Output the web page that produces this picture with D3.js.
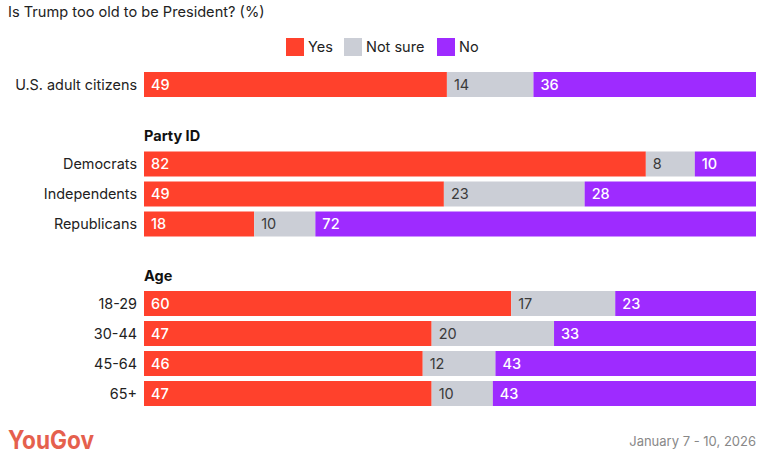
<!DOCTYPE html>
<html>
<head>
<meta charset="utf-8">
<script src="https://cdn.jsdelivr.net/npm/d3@7"></script>
<style>
  body { margin: 0; background: #fff; }
  svg { display: block; font-family: Inter, "Noto Sans", sans-serif; }
</style>
</head>
<body>
<svg width="764" height="464"></svg>
<script>
var categories = ["U.S. adult citizens", "Democrats", "Independents", "Republicans", "18-29", "30-44", "45-64", "65+"];
var groupOf = [0, 1, 1, 1, 2, 2, 2, 2];
var groupTitles = ["", "Party ID", "Age"];
var seriesNames = ["Yes", "Not sure", "No"];
var yes = [49, 82, 49, 18, 60, 47, 46, 47];
var notSure = [14, 8, 23, 10, 17, 20, 12, 10];
var no = [36, 10, 28, 72, 23, 33, 43, 43];
var colors = ["#ff412c", "#cbced6", "#9e2bff"];
var labelColors = ["#fff", "#3a3a3a", "#fff"];

var svg = d3.select("svg");
var margin = {left: 144, right: 8, top: 72};
var width = 764 - margin.left - margin.right;
var barH = 25, pitch = 30, groupGap = 49.5;

var x = d3.scaleLinear().domain([0, 1]).range([margin.left, margin.left + width]);
var y = function(i) { return margin.top + i * pitch + groupOf[i] * groupGap; };

// title
svg.append("text")
    .attr("x", 8).attr("y", 17)
    .attr("font-size", 14.6).attr("fill", "#222")
    .text("Is Trump too old to be President? (%)");

// legend
var legendX = [286, 344, 437];
var leg = svg.append("g").selectAll("g").data(seriesNames).join("g")
    .attr("transform", function(d, i) { return "translate(" + legendX[i] + ",38)"; });
leg.append("rect").attr("width", 18).attr("height", 18)
    .attr("fill", function(d, i) { return colors[i]; });
leg.append("text").attr("x", 22).attr("y", 13.5)
    .attr("font-size", 14.5).attr("fill", "#222")
    .text(function(d) { return d; });

// stacked rows
var rows = categories.map(function(c, i) {
  var vals = [yes[i], notSure[i], no[i]];
  var total = d3.sum(vals), acc = 0;
  return {name: c, i: i, segs: vals.map(function(v, k) {
    var s = {k: k, v: v, x0: acc / total, x1: (acc + v) / total};
    acc += v;
    return s;
  })};
});

var row = svg.append("g").selectAll("g").data(rows).join("g")
    .attr("transform", function(d) { return "translate(0," + y(d.i) + ")"; });

row.append("text")
    .attr("x", margin.left - 7).attr("y", barH / 2).attr("dy", "0.35em")
    .attr("text-anchor", "end").attr("font-size", 14.4).attr("fill", "#222")
    .text(function(d) { return d.name; });

var seg = row.selectAll("g.seg").data(function(d) { return d.segs; }).join("g").attr("class", "seg");
seg.append("rect")
    .attr("x", function(d) { return x(d.x0); })
    .attr("width", function(d) { return x(d.x1) - x(d.x0); })
    .attr("height", barH)
    .attr("fill", function(d) { return colors[d.k]; });
seg.append("text")
    .attr("x", function(d) { return x(d.x0) + 7; })
    .attr("y", barH / 2).attr("dy", "0.36em")
    .attr("font-size", 14.5)
    .attr("font-weight", function(d) { return d.k === 1 ? 400 : 500; })
    .attr("fill", function(d) { return labelColors[d.k]; })
    .text(function(d) { return d.v; });

// group headers
groupTitles.forEach(function(t, g) {
  if (!t) return;
  var first = groupOf.indexOf(g);
  svg.append("text")
      .attr("x", margin.left).attr("y", y(first) - 10.5)
      .attr("font-size", 14.5).attr("font-weight", 700).attr("fill", "#111")
      .text(t);
});

// footer
svg.append("text")
    .attr("x", 8).attr("y", 449)
    .attr("font-size", 25).attr("font-weight", 700).attr("fill", "#e5604d")
    .attr("textLength", 86).attr("lengthAdjust", "spacingAndGlyphs")
    .text("YouGov");
svg.append("text")
    .attr("x", 756).attr("y", 446)
    .attr("text-anchor", "end").attr("font-size", 13).attr("fill", "#888")
    .text("January 7 - 10, 2026");
</script>
</body>
</html>
